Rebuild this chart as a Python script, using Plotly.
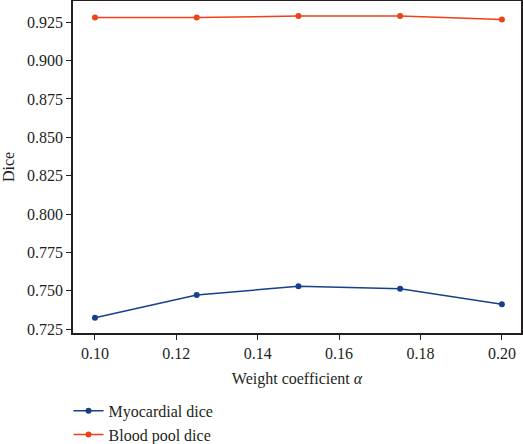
import plotly.graph_objects as go

alpha = [0.100, 0.125, 0.150, 0.175, 0.200]
myocardial_dice = [0.7325, 0.7472, 0.7530, 0.7513, 0.7412]
blood_pool_dice = [0.9280, 0.9280, 0.9290, 0.9290, 0.9268]

blue = "#183f8c"
red = "#f0401a"
font = "Liberation Serif"

fig = go.Figure()
fig.add_trace(go.Scatter(x=alpha, y=myocardial_dice, mode="lines+markers",
                         name="Myocardial dice",
                         line=dict(color=blue, width=1.5),
                         marker=dict(color=blue, size=6)))
fig.add_trace(go.Scatter(x=alpha, y=blood_pool_dice, mode="lines+markers",
                         name="Blood pool dice",
                         line=dict(color=red, width=1.5),
                         marker=dict(color=red, size=6)))

fig.update_layout(
    width=523, height=444,
    margin=dict(l=73, r=2, t=1, b=111, autoexpand=False),
    plot_bgcolor="white", paper_bgcolor="white",
    font=dict(family=font, size=16, color="#231f20"),
    showlegend=True,
    legend=dict(x=-0.01, xanchor="left", y=-0.183, yanchor="top",
                font=dict(family=font, size=16, color="#231f20"),
                tracegroupgap=0, itemwidth=30, bgcolor="rgba(0,0,0,0)"),
    xaxis=dict(range=[0.0946, 0.2047], dtick=0.02, tick0=0.1, tickformat=".2f",
               showgrid=False, zeroline=False, showline=True, linecolor="#231f20",
               linewidth=1.5, mirror=True, ticks="outside", ticklen=5,
               tickcolor="#231f20", tickwidth=1.2, automargin=False,
               title=dict(text="Weight coefficient <i>α</i>", standoff=12,
                          font=dict(family=font, size=16))),
    yaxis=dict(range=[0.7225, 0.9388], dtick=0.025, tick0=0.725, tickformat=".3f",
               showgrid=False, zeroline=False, showline=True, linecolor="#231f20",
               linewidth=1.5, mirror=True, ticks="outside", ticklen=5,
               tickcolor="#231f20", tickwidth=1.2, automargin=False,
               title=dict(text="Dice", standoff=8,
                          font=dict(family=font, size=16))),
)

fig.write_html("out.html", config={"displayModeBar": False},
               post_script="document.body.style.margin='0';")
